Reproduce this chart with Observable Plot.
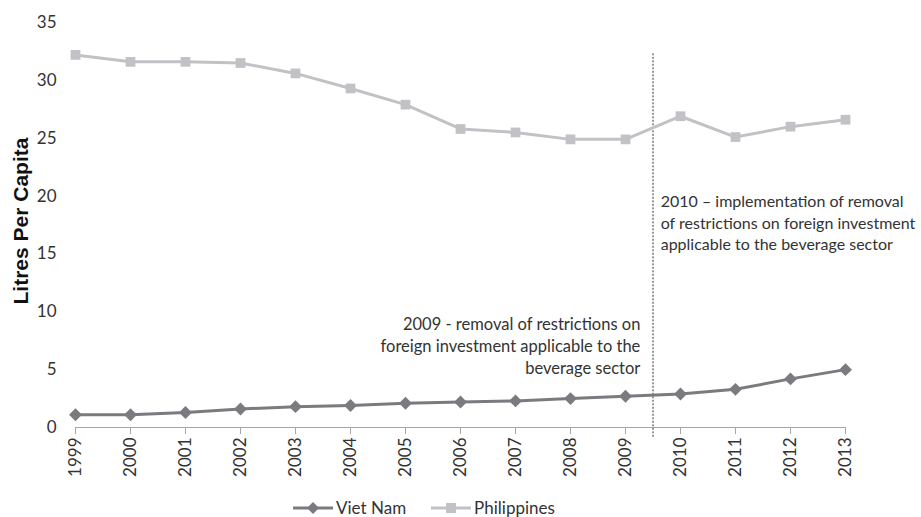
<!DOCTYPE html>
<html>
<head>
<meta charset="utf-8">
<script src="https://cdn.jsdelivr.net/npm/d3@7"></script>
<script src="https://cdn.jsdelivr.net/npm/@observablehq/plot@0.6"></script>
<style>
  body { margin: 0; background: #fff; font-family: Lato, "Open Sans", sans-serif; }
  #chart { width: 921px; }
  .legend { display: flex; align-items: center; gap: 25px; height: 27px; font-size: 17px; color: #333; padding-left: 293px; margin-top: 4px; }
  .legend span.item { display: flex; align-items: center; gap: 3px; }
</style>
</head>
<body>
<div id="chart"></div>
<script>
const years = [1999, 2000, 2001, 2002, 2003, 2004, 2005, 2006, 2007, 2008, 2009, 2010, 2011, 2012, 2013];
const vietNam = [1.1, 1.1, 1.3, 1.6, 1.8, 1.9, 2.1, 2.2, 2.3, 2.5, 2.7, 2.9, 3.3, 4.2, 5.0];
const philippines = [32.2, 31.6, 31.6, 31.5, 30.6, 29.3, 27.9, 25.8, 25.5, 24.9, 24.9, 26.9, 25.1, 26.0, 26.6];
const seriesNames = ["Viet Nam", "Philippines"];
const seriesColors = ["#7b7b7f", "#c2c2c6"];
const yTicks = [0, 5, 10, 15, 20, 25, 30, 35];
const markerLine = [{x: 2009.5, y1: -0.85, y2: 32.4}];
const note2009 = [{x: 2009.27, y: 9.75, text: "2009 - removal of restrictions on\nforeign investment applicable to the\nbeverage sector"}];
const note2010 = [{x: 2009.64, y: 20.4, text: "2010 – implementation of removal\nof restrictions on foreign investment\napplicable to the beverage sector"}];
const yLabel = ["Litres Per Capita"];

const rows = [];
years.forEach((yr, i) => {
  rows.push({year: yr, value: vietNam[i], series: seriesNames[0]});
  rows.push({year: yr, value: philippines[i], series: seriesNames[1]});
});
const vn = rows.filter(d => d.series === seriesNames[0]);
const ph = rows.filter(d => d.series === seriesNames[1]);

const chart = Plot.plot({
  width: 921,
  height: 490,
  marginLeft: 75,
  marginRight: 76,
  marginTop: 22,
  marginBottom: 63,
  style: {fontFamily: "Lato, 'Open Sans', sans-serif", fontSize: "17px", color: "#333", background: "#fff", overflow: "visible"},
  x: {domain: [1999, 2013], label: null},
  y: {domain: [0, 35], label: null},
  marks: [
    Plot.ruleY([0], {stroke: "#a6a6a6", strokeWidth: 1.2}),
    Plot.axisX({ticks: years, tickFormat: d => String(d), tickRotate: -90, tickSize: 7, tickPadding: 3, stroke: "#a6a6a6", fill: "#333", label: null, fontSize: 17}),
    Plot.axisY({ticks: yTicks, tickSize: 0, tickPadding: 19, label: null, fill: "#333", fontSize: 17}),
    Plot.ruleX(markerLine, {x: "x", y1: "y1", y2: "y2", stroke: "#333", strokeWidth: 1, strokeDasharray: "2,1.5"}),
    Plot.line(ph, {x: "year", y: "value", stroke: seriesColors[1], strokeWidth: 3}),
    Plot.dot(ph, {x: "year", y: "value", symbol: "square", r: 5.5, fill: seriesColors[1], stroke: "none"}),
    Plot.line(vn, {x: "year", y: "value", stroke: seriesColors[0], strokeWidth: 3}),
    Plot.dot(vn, {x: "year", y: "value", symbol: "diamond2", r: 5.8, fill: seriesColors[0], stroke: "none"}),
    Plot.text(note2009, {x: "x", y: "y", text: "text", textAnchor: "end", lineAnchor: "top", lineHeight: 1.32, fontSize: 16.5, fill: "#333"}),
    Plot.text(note2010, {x: "x", y: "y", text: "text", textAnchor: "start", lineAnchor: "top", lineHeight: 1.36, fontSize: 16, fill: "#333"}),
    Plot.text(yLabel, {frameAnchor: "left", textAnchor: "middle", dx: -54, dy: -4, rotate: -90, fontSize: 21, fontWeight: "bold", fill: "#111", fontFamily: "Arial, 'Liberation Sans', sans-serif"})
  ]
});
document.getElementById("chart").appendChild(chart);

const legend = document.createElement("div");
legend.className = "legend";
seriesNames.forEach((name, i) => {
  const item = document.createElement("span");
  item.className = "item";
  const sym = i === 0
    ? `<path d="M20,1 L26,7 L20,13 L14,7 Z" fill="${seriesColors[i]}"/>`
    : `<rect x="15" y="2" width="10" height="10" fill="${seriesColors[i]}"/>`;
  item.innerHTML = `<svg width="40" height="14"><line x1="0" x2="40" y1="7" y2="7" stroke="${seriesColors[i]}" stroke-width="3"/>${sym}</svg><span>${name}</span>`;
  legend.appendChild(item);
});
document.body.appendChild(legend);
</script>
</body>
</html>
